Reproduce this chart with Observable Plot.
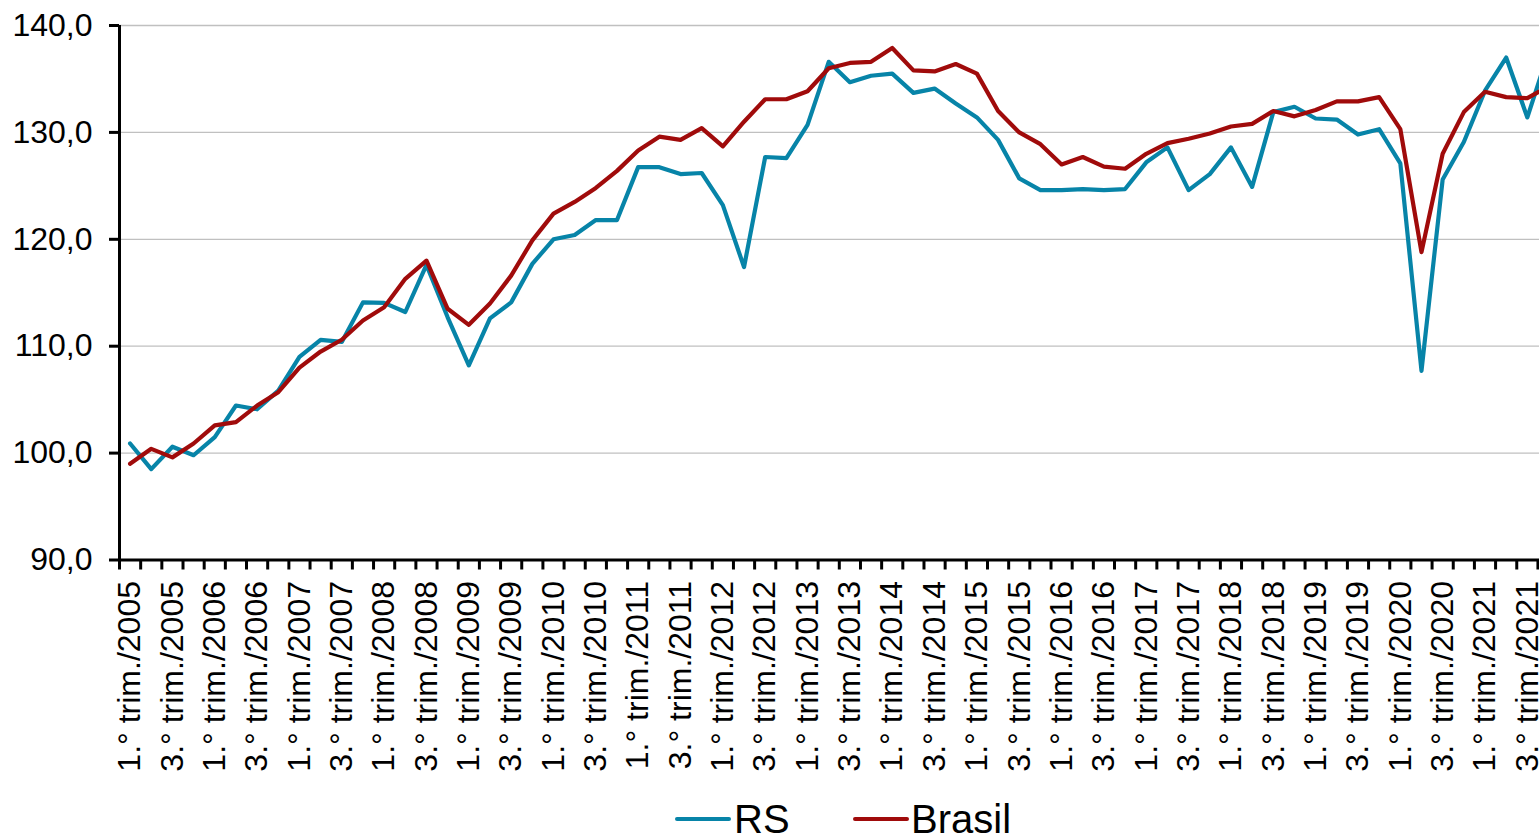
<!DOCTYPE html>
<html><head><meta charset="utf-8">
<script src="https://cdn.jsdelivr.net/npm/d3@7"></script>
<script src="https://cdn.jsdelivr.net/npm/@observablehq/plot@0.6"></script>
<style>
html,body{margin:0;padding:0;overflow:hidden;background:#fff;width:1539px;height:837px;}
#chart{position:absolute;left:0;top:0;width:1560px;}
#chart svg{max-width:none !important;}
#legend{position:absolute;left:0;top:802px;width:1539px;height:34px;font-family:"Liberation Sans",Arial,sans-serif;font-size:40px;line-height:34px;color:#000;}
.sw{position:absolute;height:4px;border-radius:2px;top:15.3px;width:56px;}
.lt{position:absolute;top:0;white-space:nowrap;}
</style></head><body>
<div id="chart"></div>
<div id="legend"></div>
<script>
const quarters = [
"1.° trim./2005","2.° trim./2005","3.° trim./2005","4.° trim./2005",
"1.° trim./2006","2.° trim./2006","3.° trim./2006","4.° trim./2006",
"1.° trim./2007","2.° trim./2007","3.° trim./2007","4.° trim./2007",
"1.° trim./2008","2.° trim./2008","3.° trim./2008","4.° trim./2008",
"1.° trim./2009","2.° trim./2009","3.° trim./2009","4.° trim./2009",
"1.° trim./2010","2.° trim./2010","3.° trim./2010","4.° trim./2010",
"1.° trim./2011","2.° trim./2011","3.° trim./2011","4.° trim./2011",
"1.° trim./2012","2.° trim./2012","3.° trim./2012","4.° trim./2012",
"1.° trim./2013","2.° trim./2013","3.° trim./2013","4.° trim./2013",
"1.° trim./2014","2.° trim./2014","3.° trim./2014","4.° trim./2014",
"1.° trim./2015","2.° trim./2015","3.° trim./2015","4.° trim./2015",
"1.° trim./2016","2.° trim./2016","3.° trim./2016","4.° trim./2016",
"1.° trim./2017","2.° trim./2017","3.° trim./2017","4.° trim./2017",
"1.° trim./2018","2.° trim./2018","3.° trim./2018","4.° trim./2018",
"1.° trim./2019","2.° trim./2019","3.° trim./2019","4.° trim./2019",
"1.° trim./2020","2.° trim./2020","3.° trim./2020","4.° trim./2020",
"1.° trim./2021","2.° trim./2021","3.° trim./2021","4.° trim./2021"
];
const rs = [
100.9, 98.5, 100.6, 99.8,
101.5, 104.45, 104.1, 105.85,
109.0, 110.6, 110.4, 114.1,
114.05, 113.2, 117.6, 112.7,
108.2, 112.6, 114.1, 117.7,
120.0, 120.4, 121.8, 121.8,
126.75, 126.75, 126.1, 126.2,
123.2, 117.4, 127.7, 127.6,
130.7, 136.6, 134.7, 135.3,
135.5, 133.7, 134.1, 132.7,
131.4, 129.3, 125.7, 124.6,
124.6, 124.7, 124.6, 124.7,
127.2, 128.6, 124.6, 126.1,
128.6, 124.9, 131.9, 132.4,
131.3, 131.2, 129.8, 130.3,
127.1, 107.7, 125.6, 129.1,
133.9, 137.0, 131.4, 137.5
];
const brasil = [
99.0, 100.4, 99.6, 100.9,
102.6, 102.9, 104.45, 105.7,
108.0, 109.5, 110.6, 112.4,
113.65, 116.3, 118.0, 113.5,
112.0, 114.0, 116.6, 119.9,
122.4, 123.5, 124.8, 126.4,
128.3, 129.6, 129.3, 130.4,
128.7, 131.0, 133.1, 133.1,
133.85, 136.0, 136.5, 136.6,
137.9, 135.8, 135.7, 136.4,
135.5, 132.0, 130.0, 128.9,
127.0, 127.7, 126.8, 126.6,
128.0, 129.0, 129.4, 129.9,
130.55, 130.8, 132.0, 131.5,
132.1, 132.9, 132.9, 133.3,
130.3, 118.8, 128.0, 131.9,
133.8, 133.3, 133.2, 134.3
];
const yTicks = [90, 100, 110, 120, 130, 140];
const seriesNames = ["RS", "Brasil"];
const seriesColors = ["#0784a8", "#a00b0b"];

const data = quarters.flatMap((q, i) => [
  {i, v: rs[i], s: "RS"},
  {i, v: brasil[i], s: "Brasil"}
]);
const idx = quarters.map((_, i) => i);
const labelIdx = idx.filter(i => quarters[i].startsWith("1.") || quarters[i].startsWith("3."));
const bounds = idx.map(i => i - 0.5).concat([quarters.length - 0.5]);
const fmt = d3.format(".1f");

const chart = Plot.plot({
  width: 1560,
  height: 799,
  marginLeft: 119,
  marginRight: 1.4,
  marginTop: 25,
  marginBottom: 239.5,
  x: {type: "linear", domain: [-0.5, quarters.length - 0.5], axis: null, label: null},
  y: {domain: [90, 140], axis: null, label: null},
  color: {domain: seriesNames, range: seriesColors},
  style: {fontFamily: "'Liberation Sans', Arial, sans-serif", fontSize: "32px", color: "#000", background: "#fff", overflow: "visible", maxWidth: "none"},
  marks: [
    Plot.ruleY(yTicks.slice(1), {stroke: "#c0c0c0", strokeWidth: 1.3}),
    Plot.line(data, {x: "i", y: "v", z: "s", stroke: "s", strokeWidth: 4.2, strokeLinejoin: "round", strokeLinecap: "round"}),
    Plot.ruleY([90], {stroke: "#000", strokeWidth: 3}),
    Plot.ruleX([-0.5], {y1: 90, y2: 140, stroke: "#000", strokeWidth: 3}),
    Plot.axisY({ticks: yTicks, tickSize: 10, tickPadding: 17, strokeWidth: 3, stroke: "#000", fill: "#000", fontSize: 32, label: null,
      tickFormat: d => fmt(d).replace(".", ",")}),
    Plot.axisX({ticks: bounds, tickSize: 10, strokeWidth: 3, stroke: "#000", label: null, tickFormat: () => ""}),
    Plot.axisX({ticks: labelIdx, tickSize: 0, tickPadding: 21, tickRotate: -90, fontSize: 32, fill: "#000", label: null,
      tickFormat: i => quarters[i]})
  ]
});
chart.style.maxWidth = "none";
document.getElementById("chart").appendChild(chart);

const legend = document.getElementById("legend");
const legendX = [675, 853];
const textOffset = [59, 58];
seriesNames.forEach((n, k) => {
  const sw = document.createElement("div");
  sw.className = "sw";
  sw.style.left = legendX[k] + "px";
  sw.style.background = seriesColors[k];
  legend.appendChild(sw);
  const t = document.createElement("div");
  t.className = "lt";
  t.style.left = (legendX[k] + textOffset[k]) + "px";
  t.textContent = n;
  legend.appendChild(t);
});
</script>
</body></html>
